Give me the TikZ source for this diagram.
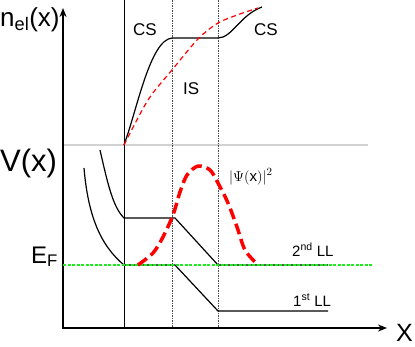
\documentclass[tikz,border=0pt]{standalone}
\usepackage{fontspec}
\setmainfont{Liberation Sans}
\usetikzlibrary{arrows.meta}
\definecolor{plotRed}{RGB}{255,0,0}
\definecolor{plotGreen}{RGB}{30,235,30}
\begin{document}
\begin{tikzpicture}[x=1pt, y=-1pt,
    axis/.style={line width=1.6pt, {Stealth[length=9pt, width=7pt]}-{Stealth[length=9pt, width=7pt]}},
    level/.style={line width=1.2pt},
    guide/.style={gray!60!black, line width=0.5pt, dash pattern=on 1.5pt off 1pt},
    lbl/.style={inner sep=0pt, anchor=base west},
    small/.style={lbl, font=\fontsize{15}{18}\selectfont}
  ]
  \useasboundingbox (0,0) rectangle (415,346);

  % reference lines
  \draw[gray!35, line width=1.5pt] (63,145) -- (368,145);
  \draw[line width=0.8pt] (124,0) -- (124,328);
  \draw[guide] (172,0) -- (172,328);
  \draw[guide] (218,0) -- (218,328);
  \draw[axis] (63,8) -- (63,328) -- (387,328);

  % electron density
  \draw[level] (124,145) .. controls (137,110) and (150,40) .. (172,38)
    -- (218,38) .. controls (232,38) and (240,15) .. (262,7);
  \draw[plotRed, line width=1.2pt, dash pattern=on 5pt off 3.5pt]
    plot[smooth] coordinates {(124,145) (148,100) (172,70) (198,39) (218,23) (240,14) (258,8)};

  % Landau levels
  \draw[level] (100,150) .. controls (108,185) and (113,207) .. (124,218)
    -- (175,218) -- (218,265) -- (328,265);
  \draw[level] (84,168) .. controls (88,215) and (100,245) .. (124,265)
    -- (175,265) -- (218,311) -- (328,311);
  \draw[plotGreen, line width=1.4pt, dash pattern=on 3pt off 1.5pt] (63,265) -- (372,265);

  % wave function
  \draw[plotRed, line width=3.5pt, dash pattern=on 11pt off 5pt]
    plot[smooth] coordinates {(138,265) (153,253) (163,237) (173,215) (180,192) (187,175)
      (198,166) (210,170) (218,183) (228,203) (237,227) (245,250) (257,264)};

  % labels
  \node[lbl, font=\fontsize{26}{30}\selectfont] (nel) at (0,26) {n\textsubscript{el}(x)};
  \node[lbl, font=\fontsize{31}{34}\selectfont] (vx) at (0,171) {V(x)};
  \node[inner sep=0pt, anchor=base east, font=\fontsize{24}{27}\selectfont] (ef) at (58,263) {E\textsubscript{F}};
  \node[lbl, font=\fontsize{25}{28}\selectfont] (xlbl) at (396,341) {X};
  \node[lbl, font=\fontsize{17}{20}\selectfont] (csl) at (133,35) {CS};
  \node[lbl, font=\fontsize{17}{20}\selectfont] (csr) at (254,35) {CS};
  \node[lbl, font=\fontsize{17}{20}\selectfont] (is) at (183,94) {IS};
  \node[lbl, font=\fontsize{15}{18}\selectfont] (psi) at (229,181) {$|\Psi(\mathrm{x})|^2$};
  \node[small] (ll2) at (292,256) {2\textsuperscript{nd} LL};
  \node[small] (ll1) at (293,306) {1\textsuperscript{st} LL};
\end{tikzpicture}
\end{document}
